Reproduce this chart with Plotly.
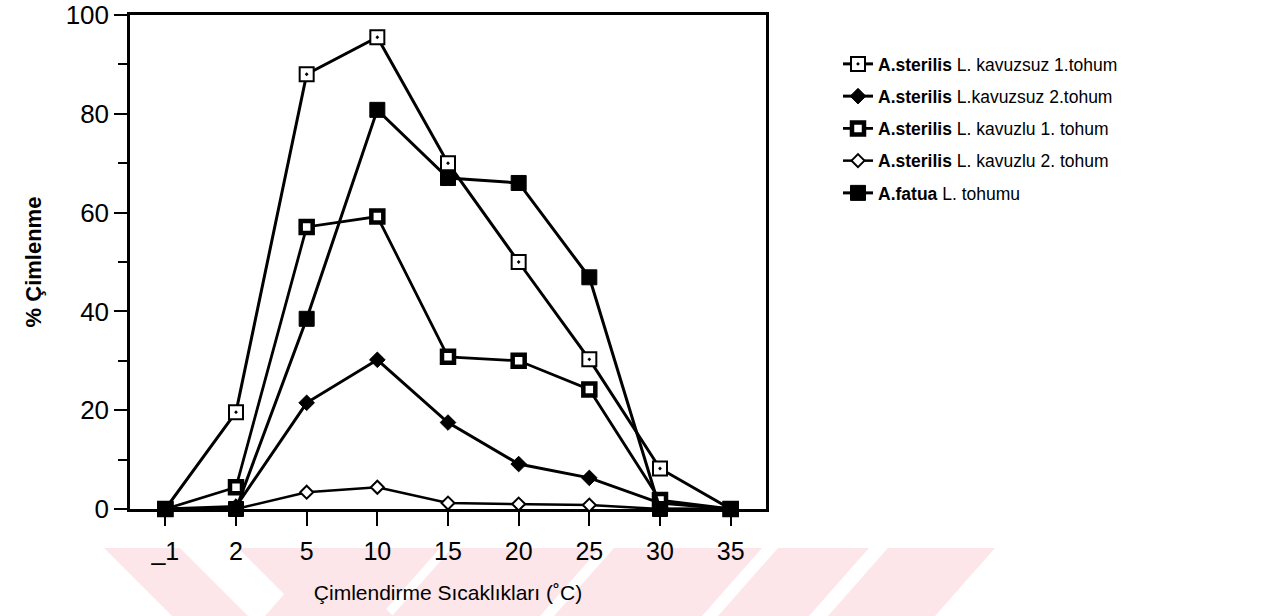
import plotly.graph_objects as go

# Germination temperatures (category labels as printed) and % germination per seed type
temperatures = ["_1", "2", "5", "10", "15", "20", "25", "30", "35"]
sterilis_huskless_1 = [0, 19.6, 88, 95.5, 70, 50, 30.3, 8.2, 0]
sterilis_huskless_2 = [0, 0.5, 21.5, 30.2, 17.5, 9.1, 6.3, 1.2, 0]
sterilis_husked_1 = [0, 4.4, 57.1, 59.2, 30.8, 30.0, 24.2, 1.8, 0]
sterilis_husked_2 = [0, 0, 3.4, 4.4, 1.2, 1.0, 0.8, 0, 0]
fatua_seed = [0, 0, 38.5, 80.8, 67, 66, 46.9, 0, 0]

series_names = [
    "<b>A.sterilis</b> L. kavuzsuz 1.tohum",
    "<b>A.sterilis</b> L.kavuzsuz 2.tohum",
    "<b>A.sterilis</b> L. kavuzlu 1. tohum",
    "<b>A.sterilis</b> L. kavuzlu 2. tohum",
    "<b>A.fatua</b> L. tohumu",
]
series_values = [sterilis_huskless_1, sterilis_huskless_2, sterilis_husked_1,
                 sterilis_husked_2, fatua_seed]

# marker styles: symbol, size, fill, outline width, line width
styles = [
    dict(symbol="square-dot", size=14, color="white", lw=2, width=3),
    dict(symbol="diamond", size=12, color="black", lw=1, width=3),
    dict(symbol="square", size=12, color="white", lw=4.5, width=2.8),
    dict(symbol="diamond", size=10, color="white", lw=2, width=2.5),
    dict(symbol="square", size=15, color="black", lw=1, width=3),
]

FONT = "Liberation Sans, Arial, Helvetica, sans-serif"

fig = go.Figure()
for i, (name, vals, st) in enumerate(zip(series_names, series_values, styles)):
    fig.add_trace(go.Scatter(
        x=temperatures, y=vals, name=name, mode="lines+markers",
        legendgroup=f"g{i}",
        line=dict(color="black", width=st["width"]),
        marker=dict(symbol=st["symbol"], size=st["size"], color=st["color"],
                    line=dict(color="black", width=st["lw"])),
        cliponaxis=False,
    ))

# faint pink watermark bands along the bottom of the page (pixel polygons)
W, H = 1273, 616
L, R, T, B = 130, 766, 15, 509
bands = [
    [(104, 548), (180, 548), (248, 616), (172, 616)],
    [(238, 548), (325, 548), (393, 616), (306, 616)],
    [(325, 548), (440, 548), (380, 616), (265, 616)],
    [(452, 548), (600, 548), (540, 616), (392, 616)],
    [(614, 548), (762, 548), (702, 616), (554, 616)],
    [(778, 548), (869, 548), (809, 616), (718, 616)],
    [(888, 548), (995, 548), (935, 616), (828, 616)],
]
shapes = []
for poly in bands:
    pts = [((px - L) / (R - L), (B - py) / (B - T)) for px, py in poly]
    path = "M " + " L ".join(f"{x:.4f},{y:.4f}" for x, y in pts) + " Z"
    shapes.append(dict(type="path", xref="paper", yref="paper", path=path,
                       fillcolor="#fce6e9", line=dict(width=0), layer="below"))

fig.update_layout(
    width=W, height=H,
    margin=dict(l=L, r=W - R, t=T, b=H - B, autoexpand=False),
    paper_bgcolor="white", plot_bgcolor="rgba(0,0,0,0)",
    font=dict(family=FONT, color="black", size=18),
    showlegend=True,
    legend=dict(x=(838 - L) / (R - L), y=(B - 46) / (B - T), xanchor="left", yanchor="top",
                font=dict(family=FONT, size=17.5), bgcolor="rgba(0,0,0,0)",
                itemwidth=30, tracegroupgap=6.5),
    shapes=shapes,
)
fig.update_xaxes(
    type="category", range=[-0.5, 8.5], automargin=False,
    showline=True, mirror=True, linecolor="black", linewidth=2.5,
    ticks="outside", ticklen=14, tickwidth=2, tickcolor="black",
    tickfont=dict(family=FONT, size=25), ticklabelstandoff=4,
    showgrid=False, zeroline=False, layer="below traces",
    title=dict(text="Çimlendirme Sıcaklıkları (˚C)", font=dict(family=FONT, size=21), standoff=22),
)
fig.update_yaxes(
    range=[0, 100.0001], tickvals=[0, 20, 40, 60, 80, 100], automargin=False,
    showline=True, mirror=True, linecolor="black", linewidth=2.5,
    ticks="outside", ticklen=13, tickwidth=2, tickcolor="black",
    minor=dict(dtick=10, ticks="outside", ticklen=9, tickwidth=2, tickcolor="black"),
    tickfont=dict(family=FONT, size=26), showgrid=False, zeroline=False,
    layer="below traces",
    title=dict(text="<b>% Çimlenme</b>", font=dict(family=FONT, size=22), standoff=18),
)

fig.write_html("out.html")
